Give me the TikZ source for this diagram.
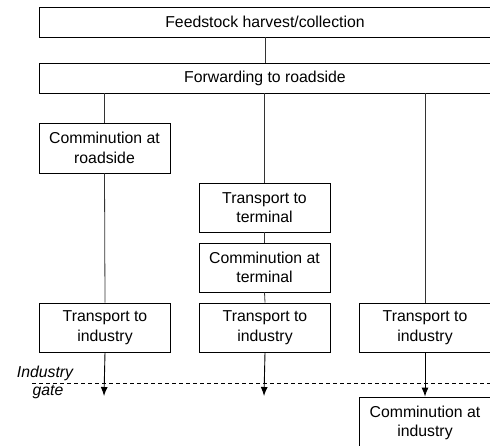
\documentclass[tikz,border=0pt]{standalone}
\usepackage{fontspec}
\setmainfont{Liberation Sans}
\usetikzlibrary{arrows.meta}
\begin{document}
\begin{tikzpicture}[x=1pt,y=-1pt,
  box/.style={draw,line width=0.9pt,align=center,inner sep=0pt,font=\fontsize{15.8}{19.5}\selectfont},
  wide/.style={box,minimum width=452pt,minimum height=30pt},
  small/.style={box,minimum width=131pt,minimum height=49pt},
  conn/.style={line width=0.8pt,draw=black!80},
  arr/.style={line width=0.9pt,-{Latex[length=9pt,width=7pt]}}]
\useasboundingbox (0,0) rectangle (490,446);
\begin{scope}
\clip (0,0) rectangle (490,446);
\node[wide] (harv) at (265,22) {Feedstock harvest/collection};
\node[wide] (fwd) at (265,78) {Forwarding to roadside};
\node[small,minimum height=50pt] (cr) at (104.5,148) {Comminution at\\roadside};
\node[small] (tt) at (264.5,207.5) {Transport to\\terminal};
\node[small] (ct) at (264.5,267.5) {Comminution at\\terminal};
\node[small] (ti1) at (105,327.5) {Transport to\\industry};
\node[small] (ti2) at (265,327.5) {Transport to\\industry};
\node[small] (ti3) at (425,327.5) {Transport to\\industry};
\node[small,minimum height=52pt] (ci) at (425,423) {Comminution at\\industry};
\draw[conn] (harv.south) -- (fwd.north);
\draw[conn] (fwd.south -| cr.north) -- (cr.north);
\draw[conn] (cr.south) -- (ti1.north);
\draw[conn] (fwd.south -| tt.north) -- (tt.north);
\draw[conn] (tt.south) -- (ct.north);
\draw[conn] (ct.south) -- (ti2.north);
\draw[conn] (fwd.south -| ti3.north) -- (ti3.north);
\coordinate (g1) at (104,396);
\coordinate (g2) at (264,396);
\draw[arr] (ti1.south) -- (g1);
\draw[arr] (ti2.south) -- (g2);
\draw[arr] (ti3.south) -- (ci.north);
\coordinate (dl) at (32,383);
\coordinate (dr) at (490,383);
\draw[line width=0.7pt,dash pattern=on 4pt off 3pt] (dl) -- (dr);
\node[font=\fontsize{15.8}{19}\selectfont\itshape] (ig1) at (45,373) {Industry};
\node[font=\fontsize{15.8}{19}\selectfont\itshape] (ig2) at (48,392) {gate};
\end{scope}
\end{tikzpicture}
\end{document}
